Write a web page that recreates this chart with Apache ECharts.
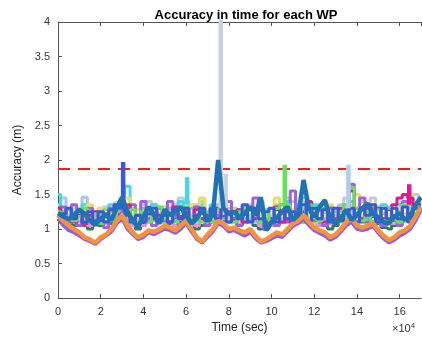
<!DOCTYPE html>
<html>
<head>
<meta charset="utf-8">
<script src="https://cdn.jsdelivr.net/npm/echarts@6/dist/echarts.min.js"></script>
<style>
  html, body { margin: 0; padding: 0; background: #fff; }
  #chart { width: 422px; height: 343px; }
</style>
</head>
<body>
<div id="chart"></div>
<script>
// time axis, in units of 1e4 seconds
const times = [
  0, 0.25, 0.5, 0.75, 1, 1.25, 1.5, 1.75, 2, 2.25, 2.5, 2.75,
  3, 3.25, 3.5, 3.75, 4, 4.25, 4.5, 4.75, 5, 5.25, 5.5, 5.75,
  6, 6.25, 6.5, 6.75, 7, 7.25, 7.5, 7.75, 8, 8.25, 8.5, 8.75,
  9, 9.25, 9.5, 9.75, 10, 10.25, 10.5, 10.75, 11, 11.25, 11.5, 11.75,
  12, 12.25, 12.5, 12.75, 13, 13.25, 13.5, 13.75, 14, 14.25, 14.5, 14.75,
  15, 15.25, 15.5, 15.75, 16, 16.25, 16.5, 16.75, 17
];
const threshold = 1.87;

// thin WP series (lower layer)
const wpDarkGreen = [
  1.2,1.1,1.15,1.05, 1.12,1.05,1.0,1.1, 1.05,1.12,1.08,1.2, 1.25,1.1,1.05,1.0,
  1.08,1.15,1.05,1.1, 1.12,1.08,1.15,1.1, 1.2,1.08,1.0,1.05, 1.1,1.15,1.2,1.12,
  1.1,1.15,1.05,1.1, 1.12,1.05,1.0,1.02, 1.08,1.28,1.1,1.12, 1.15,1.2,1.25,1.15,
  1.1,1.08,1.05,1.0, 1.05,1.12,1.2,1.25, 1.15,1.1,1.12,1.18, 1.08,1.02,1.0,1.05,
  1.1,1.12,1.15,1.25, 1.35
];
const wpPink = [
  1.28,1.18,1.1,1.2, 1.1,1.18,1.05,1.15, 1.2,1.08,1.15,1.25, 1.3,1.15,1.05,1.12,
  1.05,1.2,1.12,1.15, 1.2,1.12,1.05,1.18, 1.22,1.1,1.05,1.15, 1.1,1.2,1.25,1.15,
  1.12,1.2,1.08,1.15, 1.2,1.1,1.05,1.12, 1.05,1.15,1.2,1.1, 1.2,1.15,1.3,1.2,
  1.12,1.05,1.15,1.08, 1.1,1.15,1.22,1.2, 1.12,1.2,1.15,1.22, 1.1,1.05,1.12,1.08,
  1.15,1.2,1.3,1.25, 1.4
];
const wpOlive = [
  1.15,1.25,1.2,1.1, 1.2,1.15,1.1,1.18, 1.12,1.2,1.25,1.15, 1.2,1.3,1.18,1.1,
  1.2,1.1,1.25,1.15, 1.1,1.2,1.25,1.22, 1.15,1.2,1.1,1.22, 1.2,1.15,1.1,1.25,
  1.15,1.2,1.22,1.1, 1.2,1.15,1.25,1.1, 1.2,1.1,1.22,1.28, 1.1,1.2,1.3,1.22,
  1.2,1.1,1.22,1.15, 1.2,1.25,1.15,1.3, 1.22,1.15,1.25,1.2, 1.15,1.22,1.1,1.2,
  1.25,1.15,1.22,1.3, 1.3
];
const wpGrey = [
  1.35,1.22,1.15,1.3, 1.18,1.3,1.12,1.25, 1.15,1.32,1.2,1.38, 1.42,1.22,1.3,1.15,
  1.35,1.4,1.18,1.22, 1.32,1.15,1.35,1.45, 1.2,1.12,1.35,1.4, 1.18,1.3,1.3,1.35,
  1.3,1.2,1.28,1.15, 1.35,1.2,1.4,1.15, 1.2,1.35,1.18,1.45, 1.2,1.28,1.4,1.15,
  1.25,1.35,1.18,1.28, 1.12,1.3,1.45,1.6, 1.25,1.4,1.2,1.45, 1.32,1.15,1.3,1.18,
  1.35,1.22,1.35,1.5, 1.42
];
const wpLightBlue = [
  1.3,1.45,1.2,1.15, 1.3,1.46,1.18,1.1, 1.25,1.12,1.3,1.2, 1.3,1.15,1.1,1.28,
  1.2,1.1,1.35,1.2, 1.15,1.3,1.12,1.35, 1.4,1.2,1.1,1.3, 1.15,1.3,1.35,1.2,
  1.15,1.3,1.12,1.32, 1.2,1.1,1.35,1.2, 1.12,1.3,1.15,1.35, 1.4,1.15,1.3,1.12,
  1.3,1.15,1.28,1.1, 1.2,1.35,1.3,1.25, 1.15,1.28,1.12,1.3, 1.2,1.1,1.32,1.15,
  1.3,1.12,1.4,1.2, 1.38
];
const wpCyan = [
  1.5,1.25,1.15,1.25, 1.12,1.35,1.2,1.1, 1.22,1.15,1.35,1.18, 1.35,1.62,1.2,1.1,
  1.3,1.15,1.35,1.2, 1.1,1.3,1.2,1.4, 1.3,1.3,1.15,1.35, 1.2,1.35,1.15,1.3,
  1.2,1.1,1.28,1.15, 1.3,1.2,1.1,1.28, 1.15,1.3,1.12,1.4, 1.2,1.35,1.45,1.2,
  1.35,1.15,1.1,1.32, 1.15,1.28,1.2,1.4, 1.2,1.3,1.15,1.28, 1.12,1.35,1.2,1.1,
  1.35,1.15,1.35,1.2, 1.45
];
const wpYellow = [
  1.2,1.3,1.1,1.32, 1.15,1.28,1.35,1.12, 1.3,1.15,1.3,1.1, 1.3,1.45,1.2,1.28,
  1.15,1.3,1.2,1.1, 1.3,1.15,1.3,1.2, 1.1,1.35,1.2,1.45, 1.15,1.3,1.12,1.35,
  1.15,1.28,1.1,1.3, 1.12,1.3,1.2,1.1, 1.3,1.45,1.2,1.15, 1.28,1.1,1.35,1.2,
  1.1,1.3,1.2,1.35, 1.15,1.3,1.12,1.35, 1.5,1.2,1.1,1.32, 1.15,1.3,1.2,1.1,
  1.3,1.2,1.5,1.25, 1.35
];
const wpViolet = [
  1.12,1.32,1.1,1.35, 1.05,1.2,1.3,1.1, 1.15,1.02,1.3,1.12, 1.25,1.1,1.35,1.08,
  1.4,1.15,1.05,1.3, 1.12,1.4,1.2,1.05, 1.3,1.1,1.32,1.15, 1.05,1.28,1.2,1.3,
  1.4,1.15,1.05,1.28, 1.12,1.45,1.1,1.0, 1.15,1.05,1.35,1.1, 1.55,1.25,1.1,1.3,
  1.12,1.28,1.05,1.3, 1.08,1.2,1.35,1.65, 1.2,1.45,1.1,1.3, 1.15,1.05,1.3,1.12,
  1.05,1.4,1.2,1.35, 1.42
];
const wpMagenta = [
  1.3,1.15,1.28,1.1, 1.2,1.08,1.2,1.25, 1.1,1.22,1.15,1.3, 1.12,1.35,1.15,1.2,
  1.1,1.3,1.15,1.2, 1.22,1.1,1.32,1.18, 1.25,1.1,1.28,1.15, 1.2,1.1,1.3,1.18,
  1.25,1.12,1.28,1.1, 1.3,1.15,1.28,1.1, 1.15,1.32,1.1,1.25, 1.1,1.25,1.18,1.4,
  1.2,1.28,1.1,1.22, 1.15,1.3,1.1,1.55, 1.3,1.15,1.3,1.1, 1.3,1.15,1.28,1.35,
  1.45,1.5,1.45,1.3, 1.35
];
const wpGreen = [
  1.25,1.1,1.28,1.12, 1.18,1.3,1.1,1.22, 1.08,1.28,1.12,1.25, 1.3,1.12,1.28,1.1,
  1.25,1.1,1.22,1.32, 1.15,1.25,1.1,1.28, 1.32,1.15,1.2,1.1, 1.25,1.1,1.28,1.15,
  1.22,1.1,1.25,1.3, 1.15,1.22,1.1,1.25, 1.12,1.3,1.35,1.35, 1.15,1.25,1.1,1.35,
  1.28,1.12,1.3,1.1, 1.25,1.1,1.35,1.6, 1.3,1.12,1.25,1.1, 1.28,1.12,1.3,1.15,
  1.1,1.35,1.2,1.32, 1.3
];
const wpRoyal = [
  1.1,1.22,1.3,1.15, 1.25,1.1,1.25,1.12, 1.25,1.1,1.28,1.35, 1.3,1.2,1.1,1.2,
  1.1,1.22,1.3,1.12, 1.2,1.1,1.28,1.15, 1.3,1.12,1.2,1.3, 1.12,1.3,1.15,1.3,
  1.1,1.25,1.15,1.35, 1.1,1.3,1.15,1.25, 1.3,1.1,1.25,1.15, 1.25,1.1,1.35,1.12,
  1.3,1.15,1.28,1.1, 1.3,1.12,1.25,1.3, 1.1,1.3,1.2,1.35, 1.1,1.3,1.15,1.3,
  1.15,1.32,1.1,1.3, 1.32
];

// short bursts of single WPs (time, from, to)
const burstTimes = [3.05, 6.05, 7.62, 7.85, 10.62, 13.6, 16.45];
const burstFrom = [1.3, 1.35, 1.3, 1.3, 1.35, 1.3, 1.35];
const burstTo = [1.97, 1.75, 4.6, 1.8, 1.93, 1.93, 1.65];
const burstColors = ["#3a55e0", "#44d8e0", "#c9d0de", "#c9d0de", "#62e35a", "#b0ccf0", "#e0189a"];

// thick WP series (upper layer)
const wpPurple = [
  1.15,1.05,0.98,0.95, 0.9,0.85,0.82,0.78, 0.85,0.9,0.96,1.08, 1.15,1.0,0.92,0.85,
  0.88,0.95,0.92,0.96, 1.0,0.98,0.94,1.0, 1.08,0.96,0.85,0.8, 0.88,0.96,1.08,1.04,
  0.96,0.98,0.94,0.9, 0.95,0.86,0.8,0.82, 0.86,0.9,0.88,0.96, 1.04,1.08,1.15,1.05,
  0.98,0.94,0.9,0.84, 0.88,0.96,1.05,1.1, 1.0,0.98,1.0,1.04, 0.94,0.86,0.8,0.84,
  0.9,0.94,1.0,1.12, 1.28
];
const wpOrange = [
  1.2,1.12,1.05,1.0, 0.95,0.88,0.85,0.8, 0.88,0.92,1.0,1.12, 1.2,1.05,0.95,0.88,
  0.92,0.98,0.96,1.0, 1.05,1.02,0.98,1.05, 1.12,1.0,0.88,0.82, 0.92,1.0,1.12,1.08,
  1.0,1.02,0.98,0.95, 1.0,0.9,0.82,0.85, 0.9,0.95,0.92,1.0, 1.08,1.12,1.2,1.1,
  1.02,0.98,0.95,0.88, 0.92,1.0,1.1,1.15, 1.05,1.02,1.05,1.08, 0.98,0.9,0.84,0.88,
  0.95,0.98,1.05,1.18, 1.32
];
const wpBlue = [
  1.23,1.18,1.14,1.2, 1.28,1.22,1.12,1.06, 1.15,1.2,1.13,1.3, 1.46,1.25,1.12,1.03,
  1.18,1.32,1.2,1.08, 1.28,1.2,1.25,1.32, 1.2,1.08,1.15,1.28, 1.13,1.2,2.0,1.3,
  1.22,1.25,1.17,1.22, 1.32,1.2,1.46,0.98, 1.1,1.17,1.25,1.32, 1.13,1.2,1.71,1.3,
  1.17,1.32,1.42,1.15, 1.08,1.15,1.28,1.13, 1.2,1.3,1.37,1.22, 1.17,1.1,1.08,1.18,
  1.23,1.13,1.2,1.35, 1.46
];

const thin = [
  { data: wpDarkGreen, color: "#2f7a60" },
  { data: wpPink, color: "#f28bd0" },
  { data: wpOlive, color: "#a7c94a" },
  { data: wpGrey, color: "#c3c9d6" },
  { data: wpLightBlue, color: "#a8c6ee" },
  { data: wpCyan, color: "#44d8e0" },
  { data: wpYellow, color: "#e6df63" },
  { data: wpViolet, color: "#a060e0" },
  { data: wpMagenta, color: "#d91c8f" },
  { data: wpGreen, color: "#62e35a" },
  { data: wpRoyal, color: "#3a55e0" },
];
const thick = [
  { data: wpPurple, color: "#8b5cf0", width: 3.5 },
  { data: wpOrange, color: "#f7923a", width: 4.5 },
  { data: wpBlue, color: "#1f72b4", width: 4.5 },
];

const pair = (vals) => times.map((t, i) => [t, vals[i]]);

const series = [];

// 1.87 m limit
series.push({
  type: "line",
  data: [[times[0], threshold], [times[times.length - 1], threshold]],
  showSymbol: false,
  lineStyle: { color: "#ff1a1a", width: 2, type: [12, 8] },
  silent: true,
});

thin.forEach((s) => {
  series.push({
    type: "line",
    step: "middle",
    data: pair(s.data),
    showSymbol: false,
    lineStyle: { color: s.color, width: 3 },
    silent: true,
  });
});

burstTimes.forEach((t, i) => {
  series.push({
    type: "line",
    data: [[t, burstFrom[i]], [t, burstTo[i]]],
    showSymbol: false,
    lineStyle: { color: burstColors[i], width: 4.5, cap: "butt" },
    silent: true,
  });
});

thick.forEach((s) => {
  series.push({
    type: "line",
    data: pair(s.data),
    showSymbol: false,
    lineStyle: { color: s.color, width: s.width },
    silent: true,
  });
});

const chart = echarts.init(document.getElementById("chart"), null, { renderer: "canvas" });

const axisText = { color: "#333", fontSize: 11, fontFamily: "Liberation Sans" };

chart.setOption({
  animation: false,
  title: {
    text: "Accuracy in time for each WP",
    left: 241,
    top: 4,
    textAlign: "center",
    textStyle: { fontSize: 13, fontWeight: "bold", color: "#000", fontFamily: "Liberation Sans" },
  },
  grid: { left: 58, right: 1, top: 22, bottom: 45 },
  xAxis: [
    {
      type: "value",
      min: 0,
      max: 17,
      interval: 2,
      position: "bottom",
      name: "Time (sec)",
      nameLocation: "middle",
      nameGap: 22,
      nameTextStyle: { color: "#222", fontSize: 12, fontFamily: "Liberation Sans" },
      axisLine: { lineStyle: { color: "#555", width: 1 } },
      axisTick: { inside: true, length: 4, lineStyle: { color: "#555" } },
      axisLabel: Object.assign({ margin: 8, showMaxLabel: false }, axisText),
      splitLine: { show: false },
    },
    {
      type: "value",
      min: 0,
      max: 17,
      interval: 2,
      position: "top",
      axisLine: { lineStyle: { color: "#555", width: 1 } },
      axisTick: { inside: true, length: 4, lineStyle: { color: "#555" } },
      axisLabel: { show: false },
      splitLine: { show: false },
    },
  ],
  yAxis: {
    type: "value",
    min: 0,
    max: 4,
    interval: 0.5,
    name: "Accuracy (m)",
    nameLocation: "middle",
    nameGap: 34,
    nameTextStyle: { color: "#222", fontSize: 12, fontFamily: "Liberation Sans" },
    axisLine: { show: true, lineStyle: { color: "#555", width: 1 } },
    axisTick: { show: true, inside: true, length: 4, lineStyle: { color: "#555" } },
    axisLabel: Object.assign({ margin: 8 }, axisText),
    splitLine: { show: false },
  },
  graphic: [
    {
      type: "text",
      left: 392,
      top: 322,
      style: {
        text: "×10{sup|4}",
        fill: "#333",
        fontSize: 11,
        fontFamily: "Liberation Sans",
        rich: { sup: { fontSize: 8, verticalAlign: "top", padding: [0, 0, 6, 0], fill: "#333" } },
      },
    },
  ],
  series: series,
});
</script>
</body>
</html>
